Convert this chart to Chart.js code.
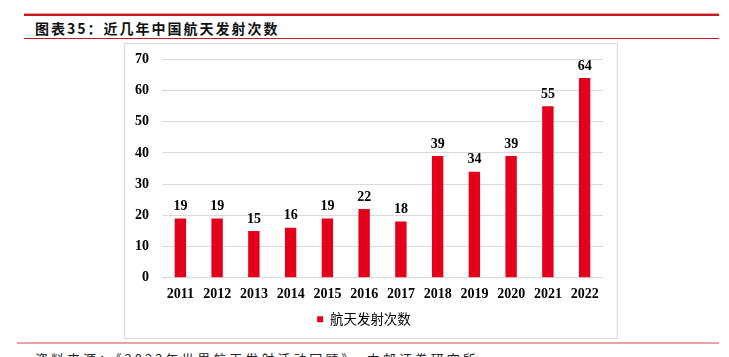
<!DOCTYPE html>
<html><head><meta charset="utf-8">
<script src="https://cdn.jsdelivr.net/npm/chart.js@4/dist/chart.umd.min.js"></script>
<style>
html,body{margin:0;padding:0;background:#fff;width:729px;height:357px;overflow:hidden;position:relative;font-family:"Noto Sans CJK SC",sans-serif;}
#topline{position:absolute;left:24px;top:13px;width:695px;height:3px;background:#c9161f;border-top:1px solid #eaa0a0;box-sizing:border-box;}
#title{position:absolute;left:35px;top:18px;font-size:14px;font-weight:bold;color:#111;letter-spacing:2px;line-height:20px;}
#line2{position:absolute;left:24px;top:38px;width:695px;height:1px;background:#c9161f;}
#box{position:absolute;left:124px;top:43px;width:494px;height:296px;border:1px solid #d9d9d9;box-sizing:border-box;overflow:hidden;}
#box canvas{position:absolute;left:0;top:-6px;}
#line3{position:absolute;left:17px;top:342px;width:702px;height:2px;background:#e9a3a3;}
#src{position:absolute;left:35px;top:349px;font-size:13px;color:#222;font-family:"Noto Sans CJK SC",sans-serif;letter-spacing:3px;}
</style></head>
<body>
<div id="topline"></div>
<div id="title">图表35：近几年中国航天发射次数</div>
<div id="line2"></div>
<div id="box"><canvas id="c" width="492" height="300"></canvas></div>
<div id="line3"></div>
<div id="src">资料来源：《2022年世界航天发射活动回顾》，中邮证券研究所</div>
<script>
const categories = ["2011","2012","2013","2014","2015","2016","2017","2018","2019","2020","2021","2022"];
const launches = [19,19,15,16,19,22,18,39,34,39,55,64];
const seriesName = "航天发射次数";
const yTicks = [0,10,20,30,40,50,60,70];

const labelPlugin = {
  id:'vals',
  afterDatasetsDraw(chart){
    const ctx = chart.ctx;
    const meta = chart.getDatasetMeta(0);
    ctx.save();
    ctx.font = 'bold 14px "Liberation Serif"';
    ctx.fillStyle = '#000';
    ctx.textAlign = 'center';
    ctx.textBaseline = 'bottom';
    meta.data.forEach((el,i)=>{
      ctx.fillText(String(chart.data.datasets[0].data[i]), el.x, el.y - 5);
    });
    ctx.restore();
  }
};

new Chart(document.getElementById('c'),{
  type:'bar',
  data:{labels:categories,datasets:[{label:seriesName,data:launches,backgroundColor:'#e3001b',borderWidth:0,barPercentage:0.31,categoryPercentage:1}]},
  options:{
    responsive:false,animation:false,
    layout:{autoPadding:false,padding:{left:0,right:14,top:14,bottom:2}},
    plugins:{
      legend:{position:'bottom',labels:{boxWidth:6,boxHeight:6,padding:10,color:'#000',font:{family:'"Noto Sans CJK SC"',size:13.5}}},
      tooltip:{enabled:false}
    },
    scales:{
      x:{grid:{display:false},border:{display:false},
         ticks:{color:'#000',padding:0,font:{family:'"Liberation Serif"',size:14,weight:'bold'}}},
      y:{min:0,max:70,
         afterBuildTicks(s){s.ticks = yTicks.map(v=>({value:v}));},
         afterFit(s){s.width=37;},
         grid:{color:'#d9d9d9',drawTicks:false},border:{display:false},
         ticks:{color:'#000',padding:13,font:{family:'"Liberation Serif"',size:14,weight:'bold'}}}
    }
  },
  plugins:[labelPlugin]
});
</script>
</body></html>
